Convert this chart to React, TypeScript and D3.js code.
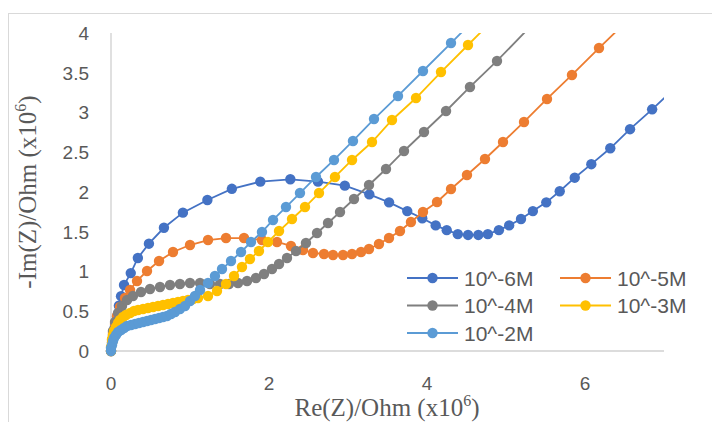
import React from "react";
import * as d3 from "d3";

const seriesNames = ["10^-6M", "10^-5M", "10^-4M", "10^-3M", "10^-2M"];
const seriesColors = ["#4472C4", "#ED7D31", "#7F7F7F", "#FFC000", "#5B9BD5"];

const xTicks = [0, 2, 4, 6];
const yTicks = [0, 0.5, 1, 1.5, 2, 2.5, 3, 3.5, 4];

const m6: [number, number][] = [
  [0, 0], [0.013, 0.1], [0.025, 0.2], [0.05, 0.31], [0.076, 0.43], [0.1, 0.57], [0.127, 0.69],
  [0.165, 0.83], [0.25, 0.98], [0.34, 1.17], [0.48, 1.35], [0.67, 1.55], [0.91, 1.74], [1.22, 1.9],
  [1.53, 2.04], [1.89, 2.13], [2.27, 2.16], [2.62, 2.13], [2.96, 2.08], [3.27, 1.97], [3.52, 1.87],
  [3.75, 1.76], [3.94, 1.67], [4.11, 1.58], [4.25, 1.52], [4.39, 1.47], [4.52, 1.46], [4.65, 1.46],
  [4.77, 1.47], [4.91, 1.52], [5.04, 1.58], [5.19, 1.66], [5.34, 1.76], [5.51, 1.87], [5.68, 2.01],
  [5.87, 2.18], [6.08, 2.35], [6.32, 2.55], [6.57, 2.79], [6.85, 3.04], [7.14, 3.31],
];

const m5: [number, number][] = [
  [0, 0], [0.013, 0.113], [0.025, 0.226], [0.051, 0.34], [0.076, 0.44], [0.114, 0.553], [0.177, 0.667],
  [0.241, 0.767], [0.329, 0.881], [0.456, 1.006], [0.608, 1.132], [0.785, 1.245], [1.0, 1.333],
  [1.228, 1.396], [1.456, 1.421], [1.684, 1.421], [1.911, 1.396], [2.101, 1.371], [2.278, 1.321],
  [2.43, 1.27], [2.557, 1.233], [2.696, 1.22], [2.81, 1.208], [2.937, 1.208], [3.051, 1.22],
  [3.165, 1.245], [3.266, 1.283], [3.392, 1.346], [3.519, 1.421], [3.658, 1.509], [3.797, 1.623],
  [3.949, 1.748], [4.127, 1.874], [4.304, 2.038], [4.506, 2.214], [4.734, 2.415], [4.962, 2.629],
  [5.228, 2.881], [5.519, 3.17], [5.835, 3.472], [6.177, 3.811], [6.519, 4.138],
];

const m4: [number, number][] = [
  [0, 0], [0.013, 0.138], [0.025, 0.252], [0.051, 0.365], [0.089, 0.478], [0.139, 0.566], [0.203, 0.642],
  [0.278, 0.692], [0.38, 0.742], [0.494, 0.78], [0.62, 0.805], [0.747, 0.83], [0.873, 0.843], [1.0, 0.855],
  [1.127, 0.855], [1.253, 0.843], [1.38, 0.843], [1.494, 0.843], [1.608, 0.855], [1.722, 0.881],
  [1.835, 0.918], [1.937, 0.969], [2.038, 1.031], [2.127, 1.094], [2.228, 1.17], [2.342, 1.258],
  [2.468, 1.358], [2.608, 1.484], [2.747, 1.61], [2.899, 1.748], [3.076, 1.912], [3.266, 2.088],
  [3.481, 2.289], [3.709, 2.516], [3.962, 2.755], [4.241, 3.019], [4.544, 3.321], [4.886, 3.648],
  [5.266, 4.038],
];

const m3: [number, number][] = [
  [0, 0], [0, 0.05], [0.013, 0.101], [0.013, 0.151], [0.025, 0.201], [0.038, 0.252], [0.063, 0.302],
  [0.089, 0.352], [0.114, 0.39], [0.152, 0.428], [0.19, 0.453], [0.241, 0.478], [0.291, 0.503],
  [0.342, 0.516], [0.405, 0.528], [0.468, 0.541], [0.532, 0.553], [0.595, 0.566], [0.658, 0.579],
  [0.722, 0.591], [0.785, 0.604], [0.848, 0.616], [0.911, 0.629], [0.975, 0.642], [1.038, 0.654],
  [1.101, 0.667], [1.228, 0.692], [1.342, 0.755], [1.456, 0.843], [1.557, 0.943], [1.658, 1.057],
  [1.759, 1.157], [1.873, 1.258], [1.987, 1.371], [2.127, 1.509], [2.291, 1.66], [2.456, 1.811],
  [2.633, 1.987], [2.835, 2.189], [3.051, 2.403], [3.304, 2.629], [3.557, 2.906], [3.861, 3.182],
  [4.177, 3.509], [4.519, 3.849], [4.886, 4.214],
];

const m2: [number, number][] = [
  [0, 0], [0, 0.038], [0.013, 0.075], [0.025, 0.126], [0.038, 0.164], [0.063, 0.201], [0.089, 0.239],
  [0.127, 0.264], [0.165, 0.289], [0.203, 0.314], [0.253, 0.327], [0.304, 0.34], [0.354, 0.352],
  [0.405, 0.365], [0.456, 0.377], [0.506, 0.39], [0.557, 0.403], [0.608, 0.415], [0.658, 0.428],
  [0.709, 0.44], [0.759, 0.465], [0.81, 0.491], [0.873, 0.528], [0.937, 0.566], [1.0, 0.629],
  [1.063, 0.692], [1.127, 0.767], [1.228, 0.855], [1.316, 0.943], [1.405, 1.031], [1.519, 1.132],
  [1.646, 1.245], [1.772, 1.371], [1.911, 1.497], [2.051, 1.648], [2.215, 1.811], [2.392, 1.987],
  [2.595, 2.189], [2.823, 2.403], [3.063, 2.642], [3.329, 2.918], [3.633, 3.208], [3.949, 3.522],
  [4.304, 3.874], [4.684, 4.252],
];

const allSeries = [m6, m5, m4, m3, m2];

export default function App() {
  const W = 712, H = 422;
  const left = 111, right = 664, top = 33, bottom = 351;
  const x = d3.scaleLinear().domain([0, 7]).range([left, right]);
  const y = d3.scaleLinear().domain([0, 4]).range([bottom, top]);
  const line = d3.line<[number, number]>().x(d => x(d[0])).y(d => y(d[1]));
  const tickFont = "'Liberation Sans', Arial, sans-serif";
  const serif = "'Liberation Serif', 'Times New Roman', serif";
  const gray = "#595959";

  const legendItems = seriesNames.map((n, i) => ({
    name: n, color: seriesColors[i],
    lx: i % 2 === 0 ? 407 : 560,
    ly: 278 + Math.floor(i / 2) * 27.5,
  }));

  return (
    <svg width={W} height={H} style={{ position: "absolute", left: 0, top: 0, background: "#fff" }}>
      <defs>
        <clipPath id="plotclip">
          <rect x={left - 12} y={top} width={right - left + 12} height={bottom - top + 12} />
        </clipPath>
      </defs>
      <rect x={0} y={0} width={W} height={H} fill="#fff" />
      <rect x={8.5} y={13.5} width={W + 20} height={H + 20} fill="none" stroke="#D9D9D9" strokeWidth={1} />
      {/* axes */}
      <line x1={left} x2={left} y1={top} y2={bottom} stroke="#D0D0D0" strokeWidth={1.3} />
      <line x1={left} x2={right} y1={bottom} y2={bottom} stroke="#D0D0D0" strokeWidth={1.3} />
      {yTicks.map(t => (
        <text key={"y" + t} x={89} y={y(t)} dy="0.36em" textAnchor="end" fontFamily={tickFont} fontSize={19} fill={gray}>
          {String(t)}
        </text>
      ))}
      {xTicks.map(t => (
        <text key={"x" + t} x={x(t)} y={390} textAnchor="middle" fontFamily={tickFont} fontSize={19} fill={gray}>
          {String(t)}
        </text>
      ))}
      {/* series */}
      <g clipPath="url(#plotclip)">
        {allSeries.map((s, i) => (
          <g key={i}>
            <path d={line(s) || ""} fill="none" stroke={seriesColors[i]} strokeWidth={1.8} />
            {s.filter(d => d[1] <= 4 && d[0] <= 7).map((d, j) => (
              <circle key={j} cx={x(d[0])} cy={y(d[1])} r={5.2} fill={seriesColors[i]} />
            ))}
          </g>
        ))}
      </g>
      {/* legend */}
      <rect x={400} y={263} width={272} height={84} fill="#fff" />
      {legendItems.map((it, i) => (
        <g key={i}>
          <line x1={it.lx} x2={it.lx + 51} y1={it.ly} y2={it.ly} stroke={it.color} strokeWidth={1.8} />
          <circle cx={it.lx + 25.5} cy={it.ly} r={5.2} fill={it.color} />
          <text x={it.lx + 57} y={it.ly} dy="0.36em" fontFamily={tickFont} fontSize={21} fill={gray}>{it.name}</text>
        </g>
      ))}
      {/* axis titles */}
      <text x={387} y={416} textAnchor="middle" fontFamily={serif} fontSize={25} fill={gray}>
        Re(Z)/Ohm (x10<tspan fontSize={16} dy={-10}>6</tspan><tspan dy={10}>)</tspan>
      </text>
      <text transform="translate(36,192) rotate(-90)" textAnchor="middle" fontFamily={serif} fontSize={25} fill={gray}>
        -Im(Z)/Ohm (x10<tspan fontSize={16} dy={-10}>6</tspan><tspan dy={10}>)</tspan>
      </text>
    </svg>
  );
}
